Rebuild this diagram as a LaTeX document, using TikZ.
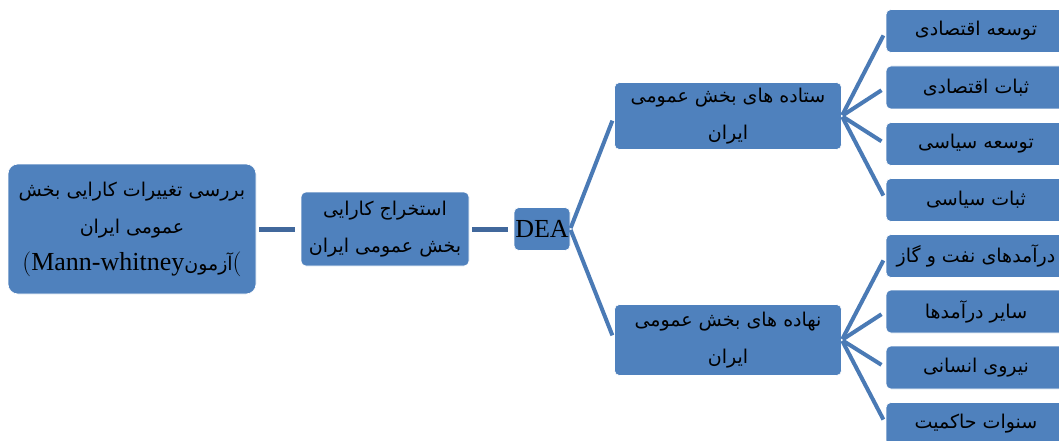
\documentclass[tikz,border=0pt]{standalone}
\usepackage{fontspec}
\setmainfont{Liberation Serif}
\newfontfamily\fa[Script=Arabic]{DejaVu Sans}
\TeXXeTstate=1
\usetikzlibrary{positioning}
\definecolor{boxblue}{HTML}{4F81BD}
\definecolor{linkblue}{HTML}{41689C}
\definecolor{forkblue}{HTML}{4A7AB5}
\tikzset{
  box/.style={fill=boxblue, draw=white, line width=.6pt, rounded corners=5pt,
    inner sep=0pt, align=center, text=black, font=\fa\fontsize{19}{37}\selectfont},
  link/.style={draw=linkblue, line width=5pt, shorten <=3, shorten >=6},
  fork/.style={draw=forkblue, line width=4pt, shorten <=1, shorten >=5}
}
\newcommand{\rtltext}[1]{\beginR #1\endR}

\begin{document}
\begin{tikzpicture}[x=1pt,y=-1pt]
\useasboundingbox (0,0) rectangle (1059,441);
% main chain
\node[box, minimum width=248, minimum height=130, rounded corners=10pt] (main) at (132,229)
  {\rtltext{بررسی تغییرات کارایی بخش}\\ \rtltext{عمومی ایران}\\
   {\rmfamily\fontsize{26}{37}\selectfont$($Mann-whitney}آزمون{\rmfamily\fontsize{26}{37}\selectfont$($}};
\node[box, minimum width=168, minimum height=74] (calc) at (385,229)
  {\rtltext{استخراج کارایی}\\ \rtltext{بخش عمومی ایران}};
\node[box, minimum width=56, minimum height=43, font=\rmfamily\fontsize{26}{30}\selectfont] (dea) at (542,229) {DEA};
\draw[link] (main) -- (calc);
\draw[link] (calc) -- (dea);
% second level
\node[box, minimum width=227, minimum height=67] (up) at (728,116)
  {\rtltext{ستاده های بخش عمومی}\\ \rtltext{ایران}};
\node[box, minimum width=227, minimum height=71] (low) at (728,340)
  {\rtltext{نهاده های بخش عمومی}\\ \rtltext{ایران}};
\draw[fork] (dea.east) -- (up.west);
\draw[fork] (dea.east) -- (low.west);
% leaves
\foreach \i/\y/\t in {1/31/{توسعه اقتصادی}, 2/87.5/{ثبات اقتصادی}, 3/144/{توسعه سیاسی},
    4/200/{ثبات سیاسی}, 5/256/{درآمدهای نفت و گاز}, 6/311.5/{سایر درآمدها},
    7/367.5/{نیروی انسانی}, 8/424/{سنوات حاکمیت}}
  \node[box, minimum width=180, minimum height=43] (r\i) at (976,\y) {\rtltext{\t}};
\foreach \i in {1,...,4}
  \draw[fork] (up.east) -- (r\i.west);
\foreach \i in {5,...,8}
  \draw[fork] (low.east) -- (r\i.west);
\end{tikzpicture}
\end{document}
